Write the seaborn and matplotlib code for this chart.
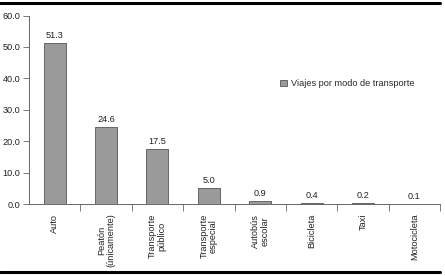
import matplotlib
matplotlib.use("Agg")
import matplotlib.pyplot as plt
import seaborn as sns
import pandas as pd
import numpy as np
from matplotlib.lines import Line2D
from matplotlib.patches import Patch

categories = ["Auto", "Peatón\n(únicamente)", "Transporte\npúblico", "Transporte\nespecial",
              "Autobús\nescolar", "Bicicleta", "Taxi", "Motocicleta"]
values = [51.3, 24.6, 17.5, 5.0, 0.9, 0.4, 0.2, 0.1]
value_labels = ["51.3", "24.6", "17.5", "5.0", "0.9", "0.4", "0.2", "0.1"]
yticks = [0, 10, 20, 30, 40, 50, 60]
series_name = "Viajes por modo de transporte"

sns.set_theme(style="white")
plt.rcParams['font.family'] = ['Liberation Sans', 'DejaVu Sans']

df = pd.DataFrame({"modo": categories, "viajes": values})

fs = 6.6
fig = plt.figure(figsize=(4.45, 2.76), dpi=100)
ax = fig.add_axes([29/445, 1 - 204/276, (440-29)/445, (204-15.5)/276])

sns.barplot(data=df, x="modo", y="viajes", ax=ax, color="#9a9a9a",
            edgecolor="#555555", linewidth=0.6, width=0.43, saturation=1)

for i, (v, lab) in enumerate(zip(values, value_labels)):
    ax.text(i, v + 1.0, lab, ha="center", va="bottom", fontsize=fs, color="#222222")

ax.set_xlim(-0.5, len(categories) - 0.5)
ax.set_ylim(0, 60)
ax.set_yticks(yticks)
ax.set_yticklabels([f"{t:.1f}" for t in yticks], fontsize=fs, color="#222222")
ax.set_xticks(range(len(categories)))
ax.set_xticklabels(categories, rotation=90, fontsize=fs, color="#222222",
                   ha="center", va="top", multialignment="center", linespacing=1.05)
ax.tick_params(axis="x", which="major", length=0, pad=7)
ax.set_xticks(np.arange(0.5, len(categories), 1.0), minor=True)
ax.tick_params(axis="x", which="minor", length=5, width=0.6, color="#666666", direction="out", bottom=True)
ax.tick_params(axis="y", length=4, width=0.6, color="#666666", direction="out", left=True, pad=2)
ax.set_xlabel("")
ax.set_ylabel("")

for s in ["top", "right"]:
    ax.spines[s].set_visible(False)
for s in ["left", "bottom"]:
    ax.spines[s].set_color("#666666")
    ax.spines[s].set_linewidth(0.7)

handle = Patch(facecolor="#9a9a9a", edgecolor="#555555", linewidth=0.6)
ax.legend([handle], [series_name], loc="upper left", bbox_to_anchor=(0.6, 0.685),
          frameon=False, fontsize=fs, handlelength=0.7, handleheight=0.7,
          handletextpad=0.5, borderpad=0)

fig.add_artist(Line2D([0, 440/445], [1 - 3/276, 1 - 3/276], color="black", linewidth=2.2,
                      transform=fig.transFigure))
fig.add_artist(Line2D([0, 440/445], [1 - 272/276, 1 - 272/276], color="black", linewidth=2.2,
                      transform=fig.transFigure))

fig.savefig("out.png", dpi=100, facecolor="white")
